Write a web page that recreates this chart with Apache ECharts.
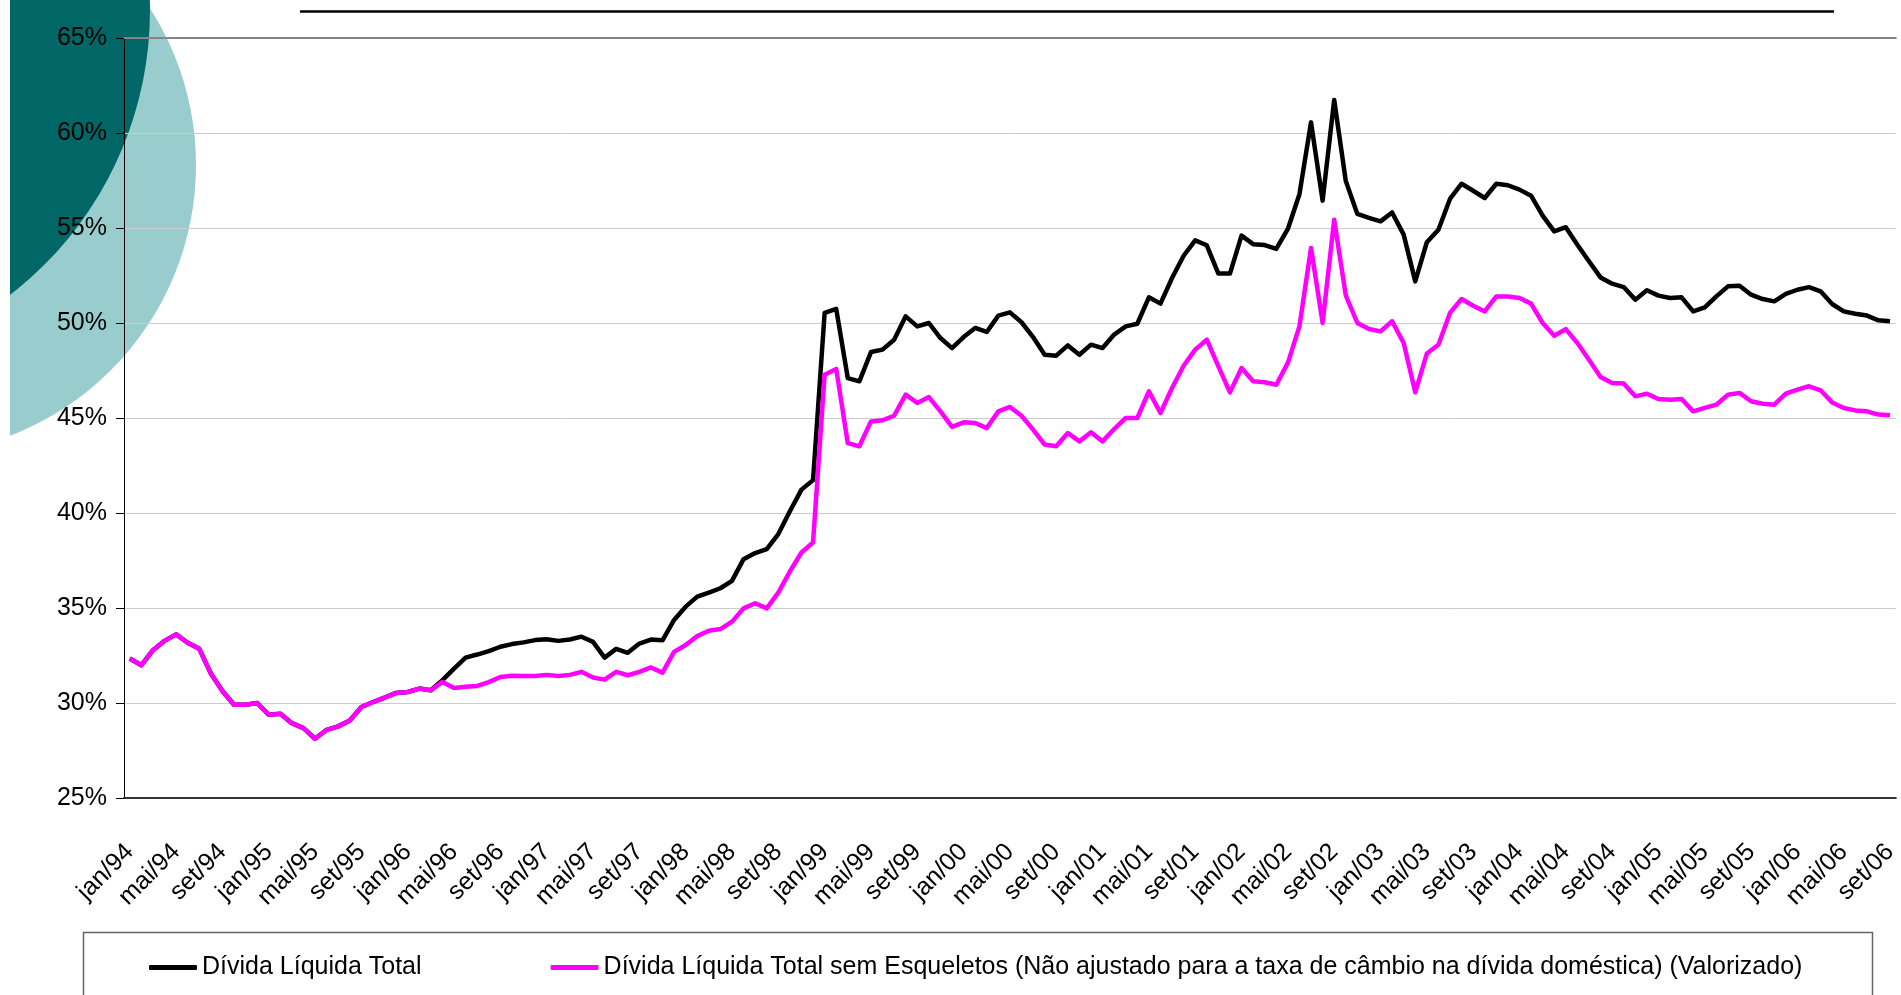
<!DOCTYPE html>
<html>
<head>
<meta charset="utf-8">
<title>Dívida Líquida Total</title>
<script src="https://cdn.jsdelivr.net/npm/echarts@6/dist/echarts.min.js"></script>
<style>
  html, body { margin: 0; padding: 0; background: #ffffff; }
  #chart { width: 1901px; height: 995px; }
</style>
</head>
<body>
<div id="chart"></div>
<script>
// Month abbreviations and years used to build the monthly category axis (jan/94 .. set/06)
const monthNames = ['jan', 'fev', 'mar', 'abr', 'mai', 'jun', 'jul', 'ago', 'set', 'out', 'nov', 'dez'];
const firstYear = 1994;
const monthCount = 153;

// Net total debt, % of GDP (monthly)
const dividaTotal = [
  32.34, 31.99, 32.78, 33.27, 33.61, 33.17, 32.85, 31.55, 30.63, 29.91, 29.91, 30.00,
  29.38, 29.44, 28.94, 28.68, 28.12, 28.59, 28.77, 29.08, 29.79, 30.05, 30.28, 30.53,
  30.58, 30.76, 30.67, 31.20, 31.81, 32.39, 32.55, 32.73, 32.96, 33.10, 33.19, 33.31,
  33.36, 33.27, 33.34, 33.49, 33.22, 32.39, 32.85, 32.64, 33.13, 33.34, 33.30, 34.37,
  35.07, 35.60, 35.81, 36.04, 36.43, 37.57, 37.89, 38.10, 38.89, 40.09, 41.23, 41.73,
  50.53, 50.74, 47.10, 46.93, 48.47, 48.60, 49.12, 50.35, 49.82, 50.00, 49.21, 48.68,
  49.26, 49.74, 49.53, 50.39, 50.56, 50.04, 49.26, 48.33, 48.28, 48.82, 48.33, 48.86,
  48.68, 49.39, 49.82, 49.96, 51.35, 51.02, 52.37, 53.54, 54.35, 54.09, 52.60, 52.60,
  54.60, 54.15, 54.10, 53.90, 54.95, 56.78, 60.56, 56.44, 61.74, 57.48, 55.74, 55.53,
  55.35, 55.82, 54.65, 52.19, 54.25, 54.91, 56.53, 57.33, 56.96, 56.58, 57.33, 57.25,
  57.02, 56.70, 55.65, 54.82, 55.04, 54.12, 53.25, 52.40, 52.07, 51.89, 51.23, 51.72,
  51.44, 51.32, 51.35, 50.61, 50.82, 51.40, 51.93, 51.96, 51.49, 51.26, 51.14, 51.53,
  51.75, 51.89, 51.67, 51.00, 50.61, 50.49, 50.39, 50.14, 50.09
];

// Net total debt without "esqueletos", % of GDP (monthly)
const semEsqueletos = [
  32.34, 31.99, 32.78, 33.27, 33.61, 33.17, 32.85, 31.55, 30.63, 29.91, 29.91, 30.00,
  29.38, 29.44, 28.94, 28.68, 28.12, 28.59, 28.77, 29.08, 29.79, 30.05, 30.28, 30.53,
  30.58, 30.76, 30.67, 31.11, 30.79, 30.85, 30.90, 31.10, 31.37, 31.43, 31.42, 31.42,
  31.48, 31.42, 31.48, 31.64, 31.34, 31.23, 31.64, 31.46, 31.64, 31.87, 31.60, 32.69,
  33.05, 33.52, 33.80, 33.89, 34.28, 34.98, 35.25, 34.98, 35.81, 36.92, 37.92, 38.45,
  47.28, 47.58, 43.68, 43.51, 44.82, 44.88, 45.12, 46.23, 45.79, 46.10, 45.35, 44.53,
  44.77, 44.74, 44.47, 45.35, 45.58, 45.12, 44.39, 43.60, 43.51, 44.21, 43.77, 44.25,
  43.77, 44.42, 45.00, 45.00, 46.40, 45.26, 46.58, 47.75, 48.60, 49.12, 47.72, 46.35,
  47.63, 46.93, 46.88, 46.75, 47.90, 49.82, 53.95, 50.00, 55.44, 51.45, 50.00, 49.68,
  49.56, 50.09, 48.95, 46.35, 48.39, 48.86, 50.53, 51.26, 50.91, 50.61, 51.40, 51.40,
  51.32, 51.02, 50.00, 49.33, 49.68, 48.95, 48.07, 47.16, 46.84, 46.81, 46.14, 46.28,
  46.00, 45.96, 46.00, 45.35, 45.53, 45.70, 46.23, 46.32, 45.88, 45.75, 45.70, 46.28,
  46.49, 46.67, 46.46, 45.82, 45.53, 45.40, 45.35, 45.18, 45.14
];

const seriesNames = [
  'Dívida Líquida Total',
  'Dívida Líquida Total sem Esqueletos (Não ajustado para a taxa de câmbio na dívida doméstica) (Valorizado)'
];

// Y axis range in percent
const yMin = 25, yMax = 65, yStep = 5;

// Category labels such as "jan/94"
const categories = [];
for (let k = 0; k < monthCount; k++) {
  const yy = String((firstYear + Math.floor(k / 12)) % 100).padStart(2, '0');
  categories.push(monthNames[k % 12] + '/' + yy);
}

const FONT = '"Liberation Sans", Arial, Helvetica, sans-serif';
const chart = echarts.init(document.getElementById('chart'), null, { renderer: 'canvas' });

chart.setOption({
  animation: false,
  textStyle: { fontFamily: FONT },
  grid: { left: 124, right: 0, top: 38, bottom: 197, containLabel: false },
  xAxis: [
    {
      type: 'category',
      data: categories,
      boundaryGap: true,
      axisLine: { lineStyle: { color: '#333333', width: 2 } },
      axisTick: { interval: 3, length: 8, lineStyle: { color: '#333333', width: 1 } },
      axisLabel: { interval: 3, rotate: 45, margin: 50, fontSize: 25, color: '#000000', fontFamily: FONT },
      splitLine: { show: false }
    },
    {
      // plot-area top border
      type: 'category',
      data: categories,
      position: 'top',
      boundaryGap: true,
      axisLine: { lineStyle: { color: '#858585', width: 2 } },
      axisTick: { show: false },
      axisLabel: { show: false },
      splitLine: { show: false }
    }
  ],
  yAxis: {
    type: 'value',
    min: yMin,
    max: yMax,
    interval: yStep,
    axisLine: { show: true, lineStyle: { color: '#000000', width: 1 } },
    axisTick: { show: true, length: 8, lineStyle: { color: '#000000', width: 1 } },
    axisLabel: { formatter: '{value}%', fontSize: 25, color: '#000000', margin: 17, fontFamily: FONT },
    splitLine: { show: true, lineStyle: { color: '#cccccc', width: 1 } }
  },
  legend: {
    left: 149,
    top: 955,
    padding: 0,
    itemWidth: 48,
    itemHeight: 5,
    itemGap: 129,
    icon: 'roundRect',
    textStyle: { fontSize: 25, color: '#000000', fontFamily: FONT },
    data: seriesNames
  },
  series: [
    {
      name: seriesNames[0],
      type: 'line',
      data: dividaTotal,
      symbol: 'none',
      color: '#000000',
      lineStyle: { color: '#000000', width: 4.5, join: 'round' },
      z: 3
    },
    {
      name: seriesNames[1],
      type: 'line',
      data: semEsqueletos,
      symbol: 'none',
      color: '#ff00ff',
      lineStyle: { color: '#ff00ff', width: 4.5, join: 'round' },
      z: 4
    }
  ],
  graphic: {
    elements: [
      // decorative slide discs behind the plot
      { type: 'circle', z: -10, silent: true, shape: { cx: -94, cy: 165, r: 290 }, style: { fill: '#99cccc' } },
      { type: 'circle', z: -9, silent: true, shape: { cx: -210, cy: 10, r: 360 }, style: { fill: '#006666' } },
      { type: 'rect', z: -8, silent: true, shape: { x: 0, y: 0, width: 10, height: 520 }, style: { fill: '#ffffff' } },
      // title rule
      { type: 'line', silent: true, shape: { x1: 300, y1: 11.5, x2: 1834, y2: 11.5 }, style: { stroke: '#000000', lineWidth: 2.5 } },
      // legend frame
      { type: 'rect', silent: true, shape: { x: 83.5, y: 932.5, width: 1789, height: 120 }, style: { fill: 'none', stroke: '#666666', lineWidth: 1.5 } }
    ]
  }
});
</script>
</body>
</html>
